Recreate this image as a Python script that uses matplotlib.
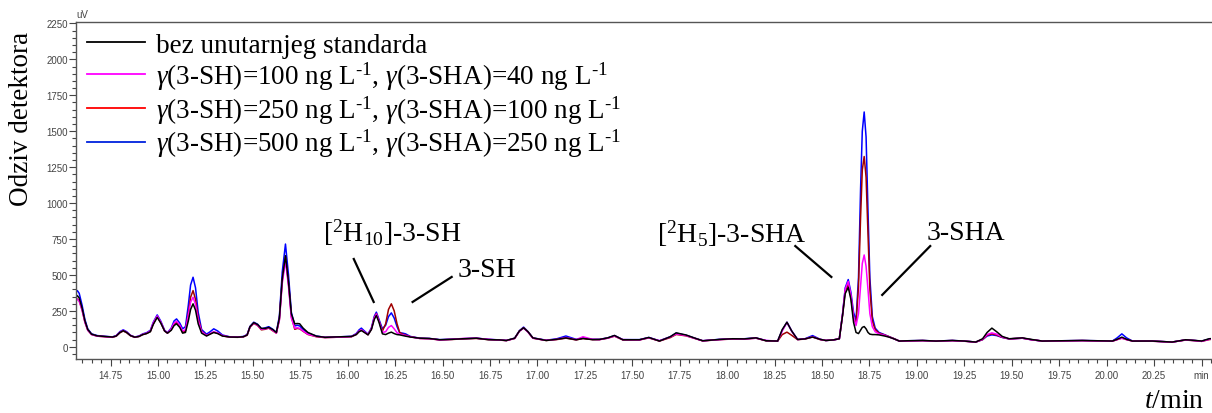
import matplotlib
matplotlib.use("Agg")
import matplotlib.pyplot as plt
from matplotlib.lines import Line2D
from matplotlib.ticker import MultipleLocator, FixedLocator

# retention time (min)
t_min = [
    14.565, 14.575, 14.585, 14.60, 14.615, 14.63, 14.65, 14.68, 14.72, 14.76,
    14.78, 14.80, 14.817, 14.835, 14.855, 14.878,
    14.90, 14.92, 14.94, 14.96, 14.975, 14.996, 15.015, 15.035, 15.05,
    15.07, 15.085, 15.098, 15.115, 15.13, 15.145, 15.16, 15.172, 15.185, 15.198, 15.212, 15.23, 15.256,
    15.275, 15.294, 15.315, 15.34, 15.38, 15.42, 15.45, 15.47,
    15.485, 15.505, 15.525, 15.545, 15.565, 15.584, 15.605, 15.624, 15.64, 15.655, 15.672, 15.688, 15.703,
    15.721, 15.735, 15.747, 15.765, 15.79, 15.835, 15.88, 15.93, 15.98, 16.02,
    16.045, 16.06, 16.072, 16.088, 16.107, 16.125, 16.14, 16.151, 16.165, 16.183,
    16.20, 16.215, 16.23, 16.245, 16.26, 16.274, 16.29, 16.305, 16.33,
    16.38, 16.43, 16.485, 16.55, 16.606, 16.678, 16.74, 16.80, 16.836, 16.88,
    16.905, 16.927, 16.95, 16.976, 17.046, 17.10, 17.15, 17.204, 17.24, 17.29,
    17.327, 17.37, 17.406, 17.45, 17.538, 17.587, 17.643, 17.70, 17.731, 17.784,
    17.83, 17.871, 17.959, 18.029, 18.09, 18.152, 18.205, 18.266,
    18.29, 18.315, 18.34, 18.371, 18.41, 18.45, 18.49, 18.52, 18.56, 18.591,
    18.608, 18.622, 18.638, 18.652, 18.666, 18.679, 18.692, 18.703, 18.712, 18.722,
    18.732, 18.742, 18.752, 18.765, 18.78, 18.80, 18.83, 18.854, 18.88, 18.907,
    18.95, 19.03, 19.1, 19.187, 19.25, 19.31, 19.346, 19.37, 19.395, 19.42,
    19.45, 19.486, 19.556, 19.60, 19.66, 19.75, 19.871, 19.95, 20.03, 20.055,
    20.08, 20.105, 20.136, 20.24, 20.345, 20.416, 20.47, 20.5, 20.54, 20.56,
]

# detector response (uV)
bez_standarda = [
    340, 356, 340, 270, 180, 120, 88, 76, 72, 68,
    75, 100, 112, 100, 78, 67,
    72, 85, 92, 105, 155, 205, 165, 110, 95,
    115, 148, 160, 135, 95, 100, 180, 260, 299, 255, 160, 95, 75,
    88, 100, 92, 75, 68, 67, 70, 82,
    140, 168, 155, 128, 128, 135, 120, 100, 200, 470, 634, 450, 230,
    160, 162, 160, 130, 100, 74, 66, 68, 70, 72,
    85, 105, 113, 100, 83, 120, 190, 218, 170, 90,
    85, 95, 102, 92, 85, 83, 78, 74, 68,
    60, 58, 49, 52, 56, 60, 50, 48, 44, 60,
    110, 132, 105, 62, 44, 52, 62, 49, 58, 50,
    51, 62, 79, 49, 49, 65, 40, 70, 97, 82,
    60, 42, 51, 56, 55, 62, 42, 40,
    120, 171, 110, 51, 55, 68, 52, 44, 48, 56,
    218, 370, 414, 330, 170, 100, 92, 115, 135, 141,
    125, 100, 88, 85, 85, 83, 75, 67, 55, 40,
    42, 44, 40, 44, 40, 33, 56, 100, 130, 105,
    72, 56, 62, 52, 40, 42, 44, 42, 40, 52,
    67, 52, 40, 40, 33, 49, 44, 40, 56, 58,
]

sh100_sha40 = [
    320, 333, 318, 255, 170, 115, 85, 74, 71, 67,
    76, 102, 114, 102, 79, 67,
    73, 87, 95, 110, 165, 215, 172, 112, 96,
    125, 165, 178, 150, 110, 118, 220, 310, 345, 295, 185, 105, 78,
    92, 105, 96, 78, 68, 67, 70, 83,
    138, 165, 150, 122, 125, 132, 115, 96, 185, 440, 600, 420, 200,
    130, 132, 128, 110, 88, 72, 65, 66, 69, 71,
    88, 110, 118, 104, 85, 125, 200, 228, 178, 100,
    105, 135, 148, 125, 98, 88, 84, 78, 70,
    58, 57, 48, 52, 58, 60, 52, 47, 44, 58,
    108, 130, 102, 60, 45, 52, 65, 50, 70, 52,
    50, 60, 75, 50, 48, 63, 42, 68, 90, 78,
    58, 42, 50, 55, 54, 60, 44, 40,
    110, 170, 108, 51, 55, 70, 52, 44, 48, 56,
    225, 400, 455, 360, 210, 148, 230, 420, 580, 639,
    560, 400, 230, 140, 105, 90, 80, 68, 55, 40,
    41, 43, 40, 43, 39, 33, 52, 85, 97, 88,
    68, 55, 60, 50, 40, 41, 43, 41, 39, 50,
    60, 50, 40, 39, 33, 48, 43, 38, 52, 55,
]

sh250_sha100 = [
    320, 333, 320, 258, 172, 116, 86, 74, 70, 66,
    74, 98, 110, 98, 77, 66,
    72, 85, 93, 107, 158, 210, 168, 110, 95,
    120, 158, 170, 145, 100, 112, 235, 345, 391, 330, 200, 108, 79,
    90, 102, 94, 76, 67, 66, 69, 81,
    136, 163, 148, 118, 122, 130, 112, 95, 190, 460, 623, 440, 210,
    122, 128, 125, 108, 86, 70, 64, 66, 68, 70,
    86, 108, 116, 102, 84, 125, 200, 230, 180, 110,
    160, 260, 299, 250, 160, 100, 88, 82, 70,
    58, 56, 48, 51, 55, 58, 50, 47, 43, 58,
    110, 132, 104, 60, 44, 50, 60, 48, 58, 50,
    50, 60, 74, 48, 48, 62, 40, 64, 86, 76,
    58, 41, 50, 54, 54, 60, 42, 40,
    85, 102, 80, 50, 54, 68, 50, 44, 48, 56,
    220, 390, 435, 350, 200, 160, 420, 900, 1230, 1324,
    1180, 800, 400, 180, 120, 95, 82, 70, 56, 40,
    41, 43, 40, 43, 39, 33, 50, 80, 90, 82,
    66, 55, 60, 50, 40, 41, 43, 41, 39, 50,
    60, 50, 40, 39, 33, 47, 42, 38, 50, 54,
]

sh500_sha250 = [
    375, 391, 372, 290, 190, 125, 90, 78, 73, 69,
    78, 106, 118, 105, 80, 68,
    75, 90, 98, 115, 170, 222, 178, 115, 98,
    130, 180, 194, 165, 125, 140, 290, 430, 484, 410, 240, 120, 88,
    105, 125, 110, 82, 69, 68, 72, 85,
    142, 171, 157, 125, 132, 140, 122, 100, 215, 520, 715, 500, 240,
    145, 150, 145, 120, 95, 75, 66, 68, 71, 73,
    92, 118, 130, 110, 88, 132, 212, 241, 190, 125,
    150, 210, 236, 200, 140, 97, 95, 90, 72,
    60, 58, 50, 53, 56, 60, 52, 48, 44, 60,
    112, 137, 106, 62, 46, 55, 75, 52, 60, 52,
    52, 62, 78, 50, 50, 65, 42, 70, 95, 80,
    60, 42, 52, 56, 56, 62, 43, 40,
    115, 171, 110, 51, 56, 78, 52, 44, 48, 56,
    228, 410, 468, 380, 240, 183, 480, 1100, 1500, 1634,
    1460, 950, 480, 210, 130, 100, 84, 70, 56, 40,
    42, 44, 40, 44, 40, 33, 50, 75, 83, 78,
    65, 55, 60, 50, 40, 42, 44, 42, 40, 62,
    90, 62, 40, 40, 33, 48, 43, 39, 54, 57,
]

labels = [
    "bez unutarnjeg standarda",
    r"$\gamma$(3-SH)=100 ng L$^{\text{-1}}$, $\gamma$(3-SHA)=40 ng L$^{\text{-1}}$",
    r"$\gamma$(3-SH)=250 ng L$^{\text{-1}}$, $\gamma$(3-SHA)=100 ng L$^{\text{-1}}$",
    r"$\gamma$(3-SH)=500 ng L$^{\text{-1}}$, $\gamma$(3-SHA)=250 ng L$^{\text{-1}}$",
]
x_ticks = [14.75, 15.00, 15.25, 15.50, 15.75, 16.00, 16.25, 16.50, 16.75, 17.00, 17.25, 17.50,
           17.75, 18.00, 18.25, 18.50, 18.75, 19.00, 19.25, 19.50, 19.75, 20.00, 20.25, 20.50]
y_ticks = [0, 250, 500, 750, 1000, 1250, 1500, 1750, 2000, 2250]

plt.rcParams["mathtext.fontset"] = "custom"
plt.rcParams["mathtext.rm"] = "Liberation Serif"
plt.rcParams["mathtext.it"] = "Liberation Serif:italic"
plt.rcParams["font.sans-serif"] = ["Liberation Sans", "DejaVu Sans"]
serif = "Liberation Serif"

fig = plt.figure(figsize=(12.12, 4.14), dpi=100)
ax = fig.add_axes([0.0627, 0.1304, 0.9365, 0.814])

# draw order: blue under, black on top
ax.plot(t_min, sh500_sha250, color="#0000ff", lw=1.1)
ax.plot(t_min, sh250_sha100, color="#a00000", lw=1.1)
ax.plot(t_min, sh100_sha40, color="#ff00ff", lw=1.1)
ax.plot(t_min, bez_standarda, color="black", lw=1.1)

ax.set_xlim(14.568, 20.55)
ax.set_ylim(-85, 2260)

ax.xaxis.set_major_locator(FixedLocator(x_ticks))
ax.xaxis.set_minor_locator(MultipleLocator(0.05))
ax.set_xticklabels(["%.2f" % v for v in x_ticks[:-1]] + ["min"])
ax.yaxis.set_major_locator(FixedLocator(y_ticks))
ax.yaxis.set_minor_locator(MultipleLocator(50))
ax.set_yticklabels([str(v) for v in y_ticks])

ax.tick_params(which="both", direction="out", colors="#444444", labelsize=7,
               labelcolor="#444444", width=0.8)
ax.tick_params(which="major", length=5)
ax.tick_params(which="minor", length=3)
ax.tick_params(axis="x", pad=3)
ax.tick_params(axis="y", pad=1)
for s in ["left", "bottom", "top"]:
    ax.spines[s].set_color("#555555")
    ax.spines[s].set_linewidth(1.0)
ax.spines["right"].set_visible(False)

handles = [Line2D([], [], color=c, lw=1.3) for c in ["black", "#ff00ff", "#ff0000", "#0022dd"]]
ax.legend(handles, labels, loc="upper left", frameon=False,
          prop={"family": serif, "size": 19.5}, handlelength=2.15, handletextpad=0.4,
          labelspacing=0.05, borderaxespad=0.0, bbox_to_anchor=(0.0, 1.0))

# peak labels and leader lines
ax.text(15.868, 736, r"[$^{2}$H$_{10}$]-3-SH", family=serif, fontsize=20)
ax.text(16.579, 493, "3-SH", family=serif, fontsize=20)
ax.text(17.632, 729, r"[$^{2}$H$_{5}$]-3-SHA", family=serif, fontsize=20)
ax.text(19.049, 750, "3-SHA", family=serif, fontsize=20)
ax.plot([16.032, 16.137], [611, 312], color="black", lw=1.6)
ax.plot([16.548, 16.342], [486, 312], color="black", lw=1.6)
ax.plot([18.359, 18.549], [701, 486], color="black", lw=1.6)
ax.plot([19.070, 18.817], [701, 361], color="black", lw=1.6)

fig.text(76 / 1212, 1 - 15 / 414, "uV", fontsize=7, color="#444444", ha="left", va="center")
fig.text(22 / 1212, 1 - 119 / 414, "Odziv detektora", family=serif, fontsize=19.5,
         rotation=90, ha="center", va="center")
fig.text(1204 / 1212, 6 / 414, r"$t$/min", family=serif, fontsize=20, ha="right", va="baseline")

fig.savefig("out.png", dpi=100)
